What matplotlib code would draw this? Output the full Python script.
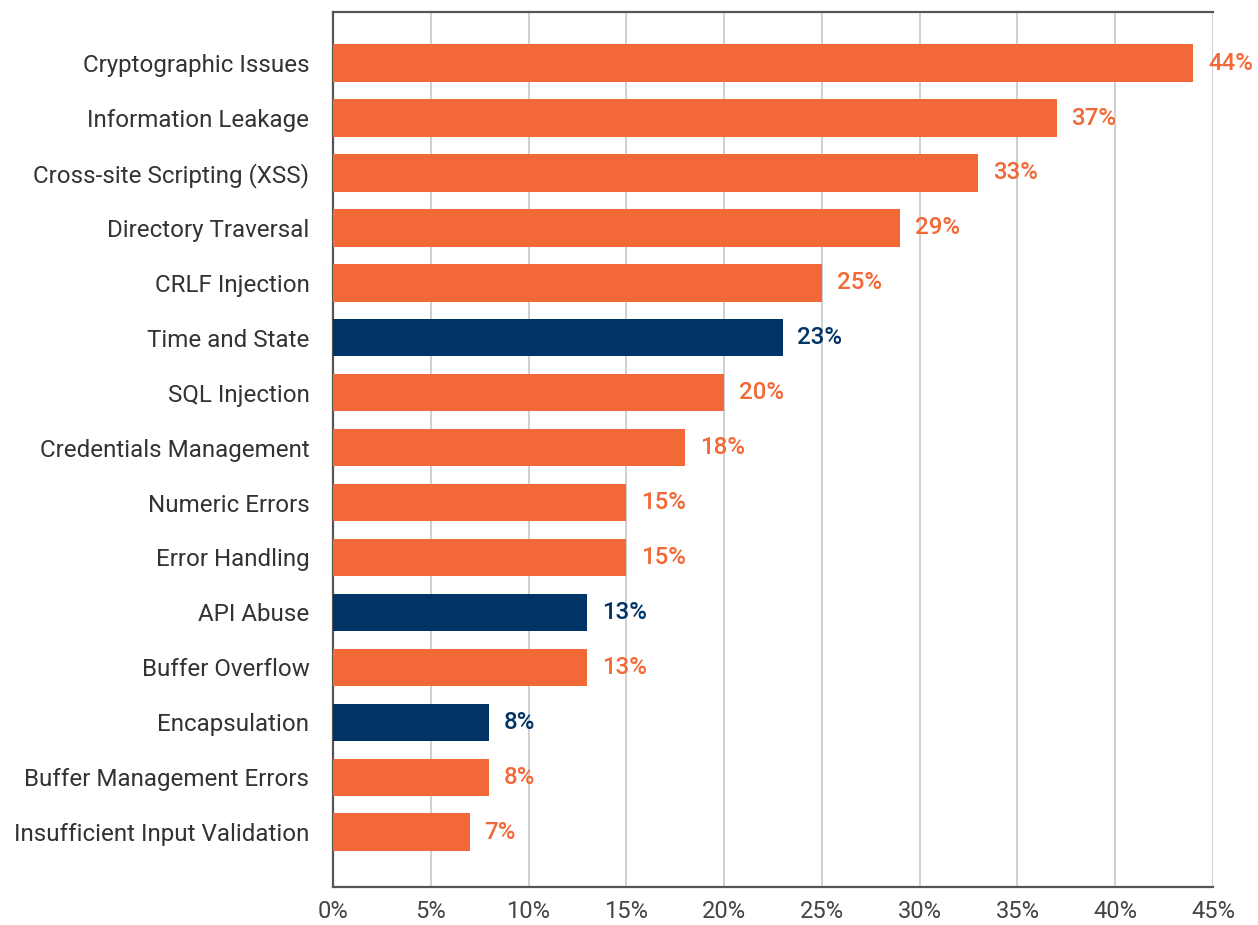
import matplotlib
matplotlib.use("Agg")
import matplotlib.pyplot as plt

# data
categories = ["Cryptographic Issues", "Information Leakage", "Cross-site Scripting (XSS)",
              "Directory Traversal", "CRLF Injection", "Time and State", "SQL Injection",
              "Credentials Management", "Numeric Errors", "Error Handling", "API Abuse",
              "Buffer Overflow", "Encapsulation", "Buffer Management Errors",
              "Insufficient Input Validation"]
values = [44, 37, 33, 29, 25, 23, 20, 18, 15, 15, 13, 13, 8, 8, 7]
highlight = ["Time and State", "API Abuse", "Encapsulation"]

ORANGE = "#F26836"
NAVY = "#003366"

plt.rcParams['font.family'] = ['Roboto', 'DejaVu Sans']

fig = plt.figure(figsize=(12.58, 9.25), dpi=100)
ax = fig.add_axes([0.2647, 0.041, 0.6995, 0.946])

colors = [NAVY if c in highlight else ORANGE for c in categories]
pos = list(range(len(categories)))
ax.barh(pos, values, height=0.68, color=colors, zorder=3)

for p, v, c in zip(pos, values, colors):
    ax.text(v + 0.75, p, f"{v}%", va="center", ha="left", fontsize=17.3,
            fontweight="medium", color=c, zorder=4)

ax.set_yticks(pos)
ax.set_yticklabels(categories, fontsize=17.4, color="#333333")
ax.set_ylim(15.0, -0.93)
ax.set_xlim(0, 45)
ax.set_xticks(range(0, 46, 5))
ax.set_xticklabels([f"{t}%" for t in range(0, 46, 5)], fontsize=17, color="#444444")
ax.tick_params(axis="y", length=0, pad=17)
ax.tick_params(axis="x", length=0, pad=9)

ax.grid(axis="x", color="#cccccc", linewidth=1.3, zorder=0)
for s in ["left", "bottom", "top"]:
    ax.spines[s].set_color("#555555")
    ax.spines[s].set_linewidth(1.6)
ax.spines["right"].set_visible(False)

fig.savefig("out.png", dpi=100)
